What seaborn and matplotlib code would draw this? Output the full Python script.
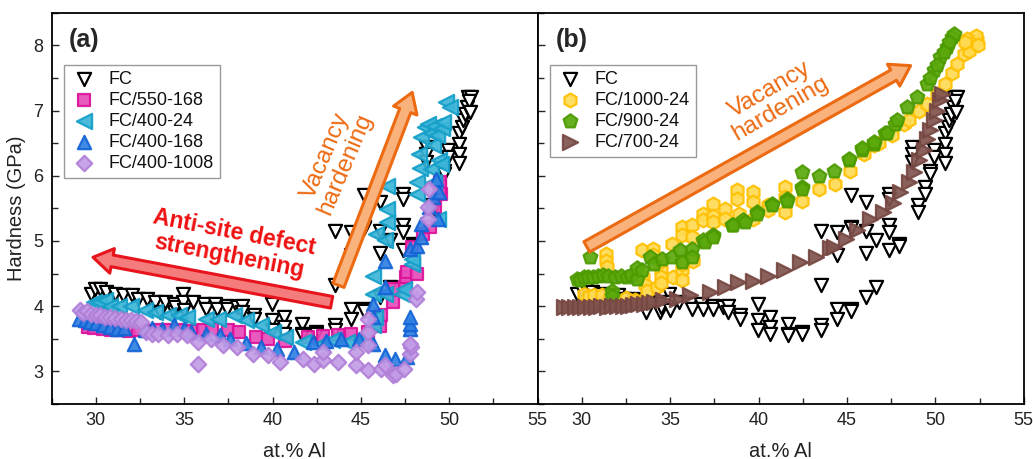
import matplotlib
matplotlib.use("Agg")
import matplotlib.pyplot as plt
import seaborn as sns
import pandas as pd
from matplotlib.ticker import MultipleLocator

# values: x = at.% Al, y = hardness (GPa)
fc_x = [29.7, 29.95, 30.25, 30.6, 31.1, 31.55, 32.05, 32.4, 32.9, 33.35, 33.65, 33.9, 34.4, 34.42,
        34.5, 34.95, 34.95, 34.98, 35.5, 36.1, 36.21, 36.75, 36.87, 37.4, 37.44, 38.0, 38.29, 38.29,
        38.95, 38.95, 39.99, 39.99, 39.99, 40.65, 40.65, 40.65, 41.69, 41.69, 41.69, 42.45, 42.45,
        43.55, 43.55, 43.55, 43.55, 44.43, 44.43, 44.43, 44.43, 45.2, 45.2, 45.2, 45.2, 45.2,
        46.09, 46.09, 46.09, 46.09, 46.66, 46.66, 47.36, 47.36, 47.36, 47.36, 47.36, 47.93, 47.93,
        48.68, 48.68, 48.68, 49.02, 49.02, 49.44, 49.44, 49.72, 49.72, 49.91, 49.91, 50.57, 50.57,
        50.57, 50.57, 50.7, 50.75, 50.9, 51.0, 51.05, 51.2, 51.1, 51.15]
fc_y = [4.19, 4.27, 4.27, 4.22, 4.19, 4.17, 4.17, 4.11, 4.11, 4.06, 3.91, 4.06, 4.04, 3.91,
        3.99, 4.19, 4.06, 3.94, 4.06, 4.04, 3.96, 4.04, 3.96, 4.01, 3.96, 3.99, 4.01, 3.91,
        3.86, 3.81, 4.04, 3.78, 3.63, 3.83, 3.68, 3.58, 3.73, 3.58, 3.55, 3.60, 3.58,
        3.71, 3.63, 4.32, 5.16, 5.14, 4.79, 3.96, 3.81, 5.70, 5.22, 5.20, 3.96, 3.93,
        5.60, 5.16, 4.81, 4.14, 5.01, 4.30, 5.72, 5.64, 5.24, 5.14, 4.86, 4.96, 4.93,
        6.44, 6.34, 6.21, 5.55, 5.44, 5.83, 5.72, 6.08, 6.03, 6.39, 6.29, 6.65, 6.49,
        6.34, 6.19, 6.75, 6.85, 6.95, 7.05, 7.21, 7.21, 7.15, 6.98]

fc550_x = [29.55, 29.9, 30.4, 30.86, 31.4, 31.9, 32.4, 33.0, 33.6, 34.2, 34.8, 35.5, 36.06, 36.6,
           37.5, 38.1, 39.07, 39.75, 40.7, 41.98, 42.85, 43.7, 44.45, 45.4, 46.1, 46.15, 46.83,
           46.85, 47.5, 47.55, 47.6, 48.15, 47.9, 48.5, 48.9, 49.2, 49.55, 49.5, 49.45]
fc550_y = [3.68, 3.66, 3.65, 3.63, 3.63, 3.62, 3.63, 3.62, 3.63, 3.64, 3.63, 3.62, 3.63, 3.65,
           3.64, 3.60, 3.53, 3.50, 3.46, 3.53, 3.54, 3.55, 3.57, 3.60, 3.70, 3.86, 4.06,
           4.27, 4.29, 4.45, 4.52, 4.50, 4.90, 5.11, 5.21, 5.52, 5.72, 5.82, 5.90]

fc400_24_x = [29.9, 30.2, 30.5, 30.8, 31.3, 31.98, 32.76, 33.34, 34.1, 34.7, 35.18, 36.25, 36.93,
              37.8, 38.5, 39.36, 40.04, 40.72, 41.7, 42.76, 43.34, 44.2, 45.0, 45.67, 45.77, 45.67,
              45.67, 46.35, 45.86, 46.35, 46.45, 46.45, 46.45, 47.3, 47.45, 47.9, 47.9, 48.2, 48.2,
              48.35, 48.3, 48.4, 48.6, 48.77, 48.96, 48.97, 49.07, 49.14, 49.16, 49.33, 49.36,
              49.42, 49.52, 49.6, 49.65, 49.8, 50.05]
fc400_24_y = [4.06, 4.06, 4.09, 4.01, 4.01, 4.01, 3.94, 3.91, 3.86, 3.86, 3.83, 3.81, 3.81,
              3.86, 3.78, 3.71, 3.60, 3.53, 3.45, 3.42, 3.48, 3.45, 3.48, 3.71, 3.83, 4.19,
              4.47, 4.19, 5.11, 5.01, 5.29, 5.49, 5.85, 4.19, 4.26, 4.65, 4.72, 5.72, 5.90,
              6.12, 6.34, 6.60, 6.75, 6.80, 6.10, 6.65, 6.47, 6.77, 5.90, 6.62, 5.34,
              6.25, 6.18, 6.74, 6.82, 7.13, 7.05]

fc400_168_x = [29.07, 29.4, 29.65, 30.0, 30.43, 30.8, 31.2, 31.6, 32.17, 32.76, 33.2, 33.73, 34.4,
               35.0, 35.38, 36.25, 37.03, 37.6, 38.5, 39.36, 40.23, 41.2, 42.27, 43.05, 43.9,
               44.9, 45.67, 45.67, 45.67, 46.35, 46.35, 46.35, 46.93, 47.6, 47.8, 47.8, 47.8,
               47.8, 48.2, 48.39, 48.39, 48.87, 49.07, 49.36, 49.26, 49.4]
fc400_168_y = [3.81, 3.78, 3.76, 3.74, 3.71, 3.68, 3.65, 3.66, 3.42, 3.63, 3.66, 3.65, 3.71,
               3.65, 3.60, 3.58, 3.55, 3.50, 3.44, 3.37, 3.35, 3.30, 3.45, 3.46, 3.50,
               3.50, 3.42, 3.83, 4.04, 4.29, 4.70, 3.25, 3.19, 3.22, 3.65, 3.73, 3.83,
               4.88, 4.93, 5.06, 5.26, 5.52, 5.67, 5.34, 5.95, 5.75]

fc400_1008_x = [29.1, 29.26, 29.5, 29.75, 30.0, 30.23, 30.5, 30.8, 31.1, 31.4, 31.7, 31.98, 32.3,
                32.56, 32.85, 33.2, 33.53, 34.1, 34.6, 35.18, 35.77, 35.77, 36.54, 37.2, 38.0,
                38.87, 39.75, 40.43, 41.7, 42.37, 42.85, 42.85, 43.7, 44.7, 44.7, 45.38, 45.38,
                45.38, 45.38, 46.15, 46.35, 46.83, 47.0, 47.41, 47.8, 47.85, 47.8, 48.1, 48.15,
                48.78, 48.78, 48.85]
fc400_1008_y = [3.94, 3.90, 3.92, 3.88, 3.86, 3.86, 3.84, 3.83, 3.82, 3.81, 3.79, 3.78, 3.77,
                3.76, 3.60, 3.58, 3.58, 3.55, 3.58, 3.55, 3.45, 3.12, 3.50, 3.40, 3.37,
                3.27, 3.25, 3.14, 3.19, 3.12, 3.17, 3.30, 3.14, 3.09, 3.30, 3.02, 3.40,
                3.60, 3.81, 3.04, 3.09, 2.94, 2.96, 3.04, 3.27, 3.37, 3.42, 4.11, 4.22,
                5.34, 5.52, 5.80]

fc1000_x = [30.1, 30.4, 30.66, 31.13, 31.6, 32.0, 32.5, 33.0, 33.4, 31.39, 31.39, 31.45, 33.38,
            34.04, 34.04, 33.45, 33.6, 33.7, 34.23, 34.5, 34.5, 34.5, 34.5, 35.1, 35.17, 35.64,
            35.64, 35.64, 35.64, 35.64, 36.25, 36.25, 36.3, 36.87, 36.87, 37.44, 37.44, 37.44,
            38.1, 38.1, 38.8, 38.8, 38.9, 39.7, 39.7, 39.7, 40.56, 40.56, 41.5, 41.5, 41.5,
            42.45, 43.39, 44.34, 45.19, 45.94, 46.51, 46.79, 47.55, 48.23, 48.49, 49.06, 49.53,
            50.1, 50.57, 50.95, 51.24, 51.61, 51.99, 52.37, 52.28, 51.8, 52.1, 51.9, 51.7, 52.4]
fc1000_y = [4.19, 4.15, 4.17, 4.17, 4.14, 4.10, 4.12, 4.10, 4.08, 4.80, 4.70, 4.60, 4.86,
            4.88, 4.78, 4.45, 4.32, 4.24, 4.29, 4.55, 4.45, 4.35, 4.70, 4.96, 4.45, 5.21,
            5.09, 4.55, 4.40, 4.65, 5.24, 5.06, 4.70, 5.42, 5.32, 5.57, 5.39, 5.29,
            5.49, 5.34, 5.78, 5.65, 5.42, 5.75, 5.60, 5.34, 5.55, 5.47, 5.83, 5.67, 5.44,
            5.62, 5.80, 5.88, 6.08, 6.34, 6.47, 6.51, 6.62, 6.80, 6.85, 7.00, 7.10,
            7.26, 7.41, 7.57, 7.72, 7.87, 7.97, 8.08, 8.15, 8.10, 8.02, 7.92, 8.05, 8.00]

fc900_x = [29.7, 29.88, 30.1, 30.35, 30.64, 30.9, 31.2, 31.5, 31.86, 32.2, 32.53, 32.8, 33.1, 33.1,
           33.4, 30.45, 31.68, 31.68, 33.85, 34.1, 34.51, 35.08, 35.55, 35.64, 36.21, 36.21, 36.87,
           36.97, 37.44, 37.44, 38.48, 38.57, 39.14, 39.23, 39.9, 39.9, 40.75, 40.75, 41.6, 41.6,
           42.45, 42.45, 42.45, 43.39, 44.24, 45.09, 45.09, 45.85, 45.85, 46.51, 46.51, 47.17,
           47.27, 47.74, 47.83, 48.4, 48.97, 49.53, 49.91, 50.29, 50.67, 50.95, 51.04, 50.8,
           50.5, 50.1, 49.7]
fc900_y = [4.42, 4.40, 4.45, 4.44, 4.45, 4.47, 4.48, 4.47, 4.45, 4.46, 4.45, 4.48, 4.42, 4.58,
           4.55, 4.75, 4.24, 4.16, 4.75, 4.65, 4.72, 4.75, 4.86, 4.68, 4.88, 4.75, 5.01,
           4.98, 5.09, 5.06, 5.24, 5.24, 5.32, 5.29, 5.44, 5.42, 5.57, 5.55, 5.65, 5.62,
           5.83, 5.80, 6.06, 6.00, 6.08, 6.24, 6.26, 6.39, 6.42, 6.49, 6.52, 6.65,
           6.65, 6.80, 6.85, 7.05, 7.21, 7.41, 7.62, 7.82, 7.97, 8.13, 8.18, 8.05,
           7.90, 7.70, 7.50]

fc700_x = [29.0, 29.3, 29.6, 29.9, 30.2, 30.5, 30.8, 31.1, 31.4, 31.7, 32.0, 32.3, 32.6, 32.9,
           33.2, 33.5, 33.8, 34.1, 34.6, 35.36, 36.12, 37.25, 38.1, 38.86, 39.7, 40.56, 41.41,
           42.35, 43.25, 44.05, 44.24, 44.95, 45.56, 46.32, 47.02, 47.6, 48.02, 48.49, 48.77,
           49.06, 49.34, 49.53, 49.72, 49.91, 50.1, 50.29, 50.38]
fc700_y = [3.99, 3.99, 3.99, 3.98, 3.99, 3.99, 3.98, 4.00, 3.99, 4.00, 4.00, 4.01, 4.01, 4.02,
           4.03, 4.03, 4.05, 4.06, 4.09, 4.11, 4.17, 4.22, 4.29, 4.37, 4.38, 4.47, 4.55,
           4.68, 4.76, 4.89, 4.91, 5.03, 5.17, 5.33, 5.44, 5.58, 5.75, 5.90, 6.06,
           6.24, 6.39, 6.57, 6.70, 6.85, 7.00, 7.16, 7.26]

labels_a = ["FC", "FC/550-168", "FC/400-24", "FC/400-168", "FC/400-1008"]
labels_b = ["FC", "FC/1000-24", "FC/900-24", "FC/700-24"]

series_a = [(fc_x, fc_y), (fc550_x, fc550_y), (fc400_24_x, fc400_24_y),
            (fc400_168_x, fc400_168_y), (fc400_1008_x, fc400_1008_y)]
series_b = [(fc_x, fc_y), (fc1000_x, fc1000_y), (fc900_x, fc900_y), (fc700_x, fc700_y)]

# marker, size, face, edge
fc_style = ("v", 90, "white", "black")
styles_a = [fc_style,
            ("s", 68, "#e84cba", "#dc1199"),
            ("<", 120, "#3cb5d8", "#159fc8"),
            ("^", 92, "#2f80e2", "#1463d6"),
            ("D", 62, "#c39be6", "#b07fd8")]
styles_b = [fc_style,
            ("h", 100, "#ffdb55", "#ffc000"),
            ("p", 108, "#5ba90c", "#4c9a00"),
            (">", 118, "#80534e", "#774843")]

sns.set_style("ticks")
plt.rcParams['font.family'] = ['Liberation Sans', 'DejaVu Sans']

fig = plt.figure(figsize=(10.33, 4.59), dpi=100)
ax_a = fig.add_axes([0.050, 0.120, 0.4705, 0.852])
ax_b = fig.add_axes([0.5205, 0.120, 0.4705, 0.852])


def draw_panel(ax, series, labels, styles):
    for (xs, ys), lab, (mk, sz, fc, ec) in zip(series, labels, styles):
        df = pd.DataFrame({"x": xs, "y": ys})
        sns.scatterplot(data=df, x="x", y="y", ax=ax, marker=mk, s=sz, color=fc,
                        edgecolor=ec, linewidth=1.6, alpha=0.92 if fc != "white" else 1.0,
                        label=lab, zorder=3)
    ax.set_xlim(27.5, 55)
    ax.set_ylim(2.5, 8.5)
    ax.xaxis.set_major_locator(MultipleLocator(5))
    ax.xaxis.set_minor_locator(MultipleLocator(2.5))
    ax.yaxis.set_major_locator(MultipleLocator(1))
    ax.yaxis.set_minor_locator(MultipleLocator(0.5))
    ax.tick_params(which="both", direction="in", top=False, right=False, labelsize=13,
                   width=1.0, pad=6, labelcolor="#222222")
    ax.tick_params(which="major", length=5)
    ax.tick_params(which="minor", length=4)
    for sp in ax.spines.values():
        sp.set_visible(True)
        sp.set_linewidth(1.3)
        sp.set_color("black")
    ax.set_xlabel("at.% Al", fontsize=14.5, labelpad=9, color="#222222")
    leg = ax.legend(loc="upper left", bbox_to_anchor=(0.025, 0.867), borderaxespad=0,
                    fontsize=13, frameon=True, fancybox=False, framealpha=1,
                    edgecolor="#999999", labelspacing=0.22, handletextpad=0.6,
                    borderpad=0.35, handlelength=1.5)
    leg.get_frame().set_linewidth(1.0)
    for t in leg.get_texts():
        t.set_color("#111111")


draw_panel(ax_a, series_a, labels_a, styles_a)
draw_panel(ax_b, series_b, labels_b, styles_b)

ax_a.set_ylabel("Hardness (GPa)", fontsize=14.5, labelpad=5, color="#222222")
ax_b.set_ylabel("")
ax_b.tick_params(labelleft=False)
ax_b.set_xticks([30, 35, 40, 45, 50, 55])

ax_a.text(28.45, 8.09, "(a)", fontsize=18, fontweight="bold", ha="left", va="center")
ax_b.text(28.5, 8.09, "(b)", fontsize=18, fontweight="bold", ha="left", va="center")

arrow_kw = dict(arrowstyle="simple,head_length=1.4,head_width=1.8,tail_width=0.85",
                mutation_scale=10, shrinkA=0, shrinkB=0, lw=2.2)

ax_a.annotate("", xy=(29.84, 4.75), xytext=(43.34, 4.06),
              arrowprops=dict(fc="#f47c7c", ec="#e8141c", **arrow_kw), zorder=5)
ax_a.text(37.7, 4.95, "Anti-site defect\nstrengthening", color="#ee1111", fontsize=16.5,
          fontweight="bold", rotation=-11, ha="center", va="center", linespacing=1.05,
          rotation_mode="anchor", zorder=6)

ax_a.annotate("", xy=(47.9, 7.28), xytext=(43.73, 4.32),
              arrowprops=dict(fc="#f9b27c", ec="#ec6a12", **arrow_kw), zorder=5)
ax_a.text(43.57, 6.24, "Vacancy\nhardening", color="#ec6a12", fontsize=17.5,
          rotation=67, ha="center", va="center", linespacing=1.0,
          rotation_mode="anchor", zorder=6)

ax_b.annotate("", xy=(48.6, 7.69), xytext=(30.28, 4.91),
              arrowprops=dict(fc="#f9b27c", ec="#ec6a12", **arrow_kw), zorder=5)
ax_b.text(40.94, 7.18, "Vacancy\nhardening", color="#ec6a12", fontsize=17.5,
          rotation=30, ha="center", va="center", linespacing=1.0,
          rotation_mode="anchor", zorder=6)

fig.savefig("out.png", dpi=100)
